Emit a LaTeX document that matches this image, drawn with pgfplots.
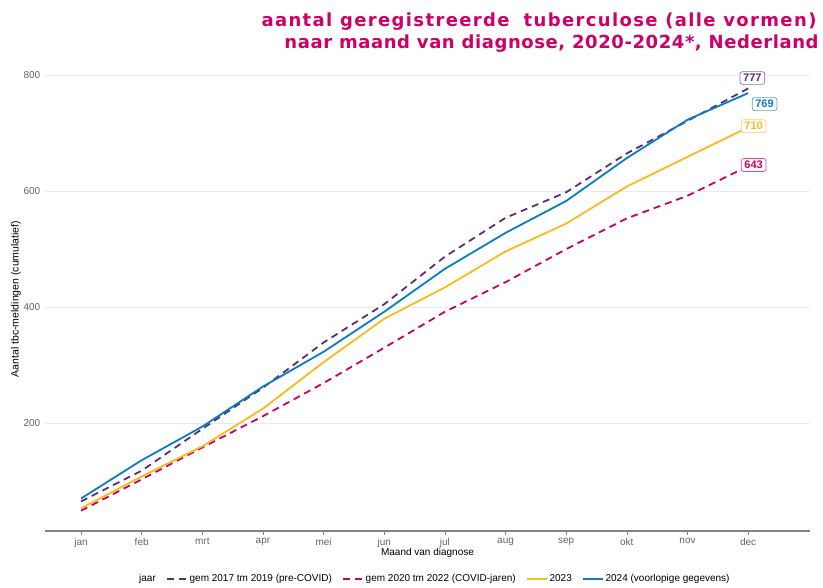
\documentclass[border=0pt]{standalone}
\usepackage{pgfplots}
\pgfplotsset{compat=1.18}
\usepackage{fontspec}
\setmainfont{Liberation Sans}
\newfontfamily\titlefontA{DejaVu Sans}[LetterSpace=7.6]
\newfontfamily\titlefontB{DejaVu Sans}[LetterSpace=3.2]
\definecolor{cpurple}{RGB}{94,45,115}
\definecolor{cmag}{RGB}{200,0,100}
\definecolor{cyel}{RGB}{251,185,30}
\definecolor{cblue}{RGB}{10,124,198}
\definecolor{ctitle}{RGB}{204,0,102}
\definecolor{ctick}{RGB}{100,100,100}
\definecolor{cgrid}{RGB}{235,235,235}

\pgfplotstableread{
m purple mag yel blue
1 65 49 53 70
2 118 103 108 136
3 190 158 160 194
4 261 212 225 263
5 339 269 305 323
6 405 330 380 392
7 487 392 434 466
8 554 443 496 528
9 598 500 544 583
10 665 553 608 657
11 721 592 659 723
12 777 643 710 769
}\datatable

\begin{document}
\begin{tikzpicture}[x=1bp,y=1bp]
\path[use as bounding box] (0,0) rectangle (823,588);
\begin{axis}[
  at={(45bp,57bp)}, anchor=south west,
  scale only axis, width=765bp, height=464bp,
  xmin=0.406, xmax=13.02, ymin=14, ymax=814,
  axis lines*=left,
  y axis line style={draw=none},
  x axis line style={draw=ctick!80, line width=1.8bp},
  axis line style={-},
  tick align=outside,
  xtick={1,...,12},
  xticklabels={jan,feb,mrt,apr,mei,jun,jul,aug,sep,okt,nov,dec},
  ytick={200,400,600,800},
  xtick style={draw=ctick!80, line width=0.6bp, /pgfplots/major tick length=4bp},
  ytick style={draw=none, /pgfplots/major tick length=0bp},
  ymajorgrids,
  grid style={draw=cgrid, line width=0.8bp},
  tick label style={font=\fontsize{10bp}{12bp}\selectfont, text=ctick},
  /pgf/number format/assume math mode=true,
  yticklabel style={xshift=3bp},
  xticklabel style={yshift=1bp},
  xlabel={Maand van diagnose},
  ylabel={Aantal tbc-meldingen (cumulatief)},
  label style={font=\fontsize{10.5bp}{12bp}\selectfont},
  xlabel style={yshift=6bp, font=\fontsize{10bp}{12bp}\selectfont},
  ylabel style={yshift=-4bp},
  legend columns=-1,
  legend style={at={(0.509,-0.1034)}, anchor=center, draw=none, fill=none,
    font=\fontsize{10bp}{12bp}\selectfont, inner sep=0pt,
    /tikz/every even column/.append style={column sep=8bp}},
  legend image code/.code={\draw[#1] (0bp,0bp) -- (20bp,0bp);},
  every axis plot/.append style={line width=1.8bp},
]
\addlegendimage{empty legend}
\addlegendentry{jaar}
\addplot[cpurple, dash pattern=on 7bp off 5bp] table[x=m,y=purple]{\datatable};
\addlegendentry{gem 2017 tm 2019 (pre-COVID)}
\addplot[cmag, dash pattern=on 7bp off 5bp] table[x=m,y=mag]{\datatable};
\addlegendentry{gem 2020 tm 2022 (COVID-jaren)}
\addplot[cyel] table[x=m,y=yel]{\datatable};
\addlegendentry{2023}
\addplot[cblue] table[x=m,y=blue]{\datatable};
\addlegendentry{2024 (voorlopige gegevens)}

\tikzset{lab/.style={draw=#1!70, text=#1, fill=white, rounded corners=2.5bp, line width=0.7bp,
  inner xsep=3.2bp, inner ysep=2.6bp, font=\bfseries\fontsize{11bp}{12bp}\selectfont}}
\node[lab=cpurple] at (axis cs:12.07,795) {777};
\node[lab=cblue] at (axis cs:12.27,750) {769};
\node[lab=cyel] at (axis cs:12.09,712) {710};
\node[lab=cmag] at (axis cs:12.09,645) {643};
\end{axis}
\node[anchor=base east, text=ctitle, font=\titlefontA\bfseries\fontsize{18bp}{20bp}\selectfont] at (820,561) {aantal geregistreerde\hspace{14bp}tuberculose (alle vormen)};
\node[anchor=base east, text=ctitle, font=\titlefontB\bfseries\fontsize{18bp}{20bp}\selectfont] at (822,539) {naar maand van diagnose, 2020-2024*, Nederland};
\end{tikzpicture}
\end{document}
